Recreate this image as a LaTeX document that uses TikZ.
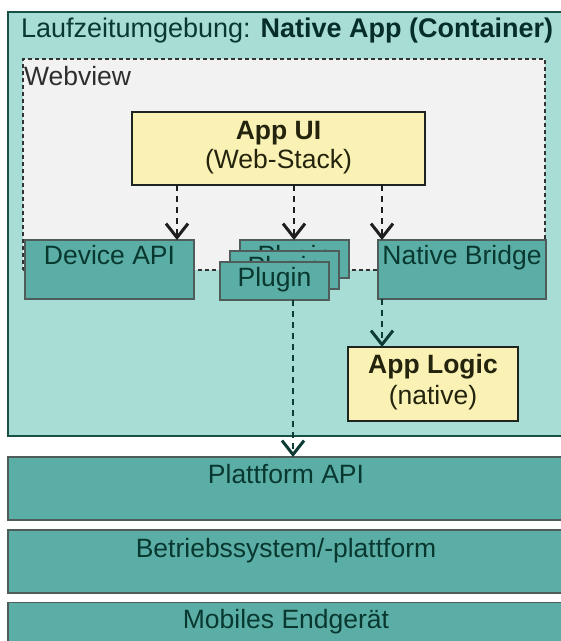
\documentclass[tikz,border=0pt]{standalone}
\usepackage{fontspec}
\setmainfont{Liberation Sans}
\usetikzlibrary{arrows.meta}
\definecolor{contfill}{RGB}{168,221,213}
\definecolor{contline}{RGB}{25,80,70}
\definecolor{boxfill}{RGB}{91,174,165}
\definecolor{boxline}{RGB}{80,92,90}
\definecolor{tealtext}{RGB}{8,56,48}
\definecolor{titlebold}{RGB}{6,46,40}
\definecolor{webfill}{RGB}{242,242,242}
\definecolor{webline}{RGB}{50,50,50}
\definecolor{yellowfill}{RGB}{250,242,180}
\definecolor{yellowline}{RGB}{30,36,32}
\definecolor{darkarrow}{RGB}{30,30,30}
\definecolor{tealarrow}{RGB}{14,60,52}
\definecolor{uitext}{RGB}{36,36,14}
\begin{document}
\begin{tikzpicture}[x=1pt,y=-1pt,
  every node/.style={font=\fontsize{26.5}{30}\selectfont, inner sep=0pt, outer sep=0pt},
  tealbox/.style={draw=boxline, fill=boxfill, line width=1.2pt, rectangle},
  yellowbox/.style={draw=yellowline, fill=yellowfill, line width=2.2pt, rectangle},
  lbl/.style={anchor=base, text=tealtext},
  ylbl/.style={anchor=base, text=uitext},
  uparrow/.style={draw=darkarrow, line width=2.6pt, dash pattern=on 6pt off 5pt,
    -{Straight Barb[length=14pt,width=22pt,line width=3pt]}},
  lowarrow/.style={draw=tealarrow, line width=2.6pt, dash pattern=on 6pt off 5pt,
    -{Straight Barb[length=14pt,width=22pt,line width=3pt]}}
]
\useasboundingbox (0,0) rectangle (561,641);
\clip (0,0) rectangle (561,641);
% container
\node[draw=contline, fill=contfill, line width=1.5pt, minimum width=562pt, minimum height=424pt] (cont) at (289,224) {};
\node[anchor=base west, text=tealtext, font=\fontsize{27}{30}\selectfont] (title) at (21,37) {Laufzeitumgebung: \textcolor{titlebold}{\textbf{Native App (Container)}}};
% webview
\node[draw=webline, fill=webfill, line width=1.3pt, dash pattern=on 4pt off 3pt, minimum width=522pt, minimum height=211pt] (web) at (284,164.5) {};
\node[anchor=base west, text=black!82] (weblbl) at (24,85) {Webview};
% App UI
\node[yellowbox, minimum width=293pt, minimum height=73pt] (ui) at (278.5,148.5) {};
\node[ylbl] (ui1) at (278.5,139) {\textbf{App UI}};
\node[ylbl] (ui2) at (278.5,168) {(Web-Stack)};
% Device API
\node[tealbox, minimum width=169pt, minimum height=59pt] (dev) at (109.5,269.5) {};
\node[lbl] (devlbl) at (109.5,264) {Device API};
% Plugins
\node[tealbox, minimum width=109pt, minimum height=38pt] (plug3) at (294.5,259) {};
\node[lbl] (plug3lbl) at (294.5,264) {Plugin};
\node[tealbox, minimum width=109pt, minimum height=38pt] (plug2) at (284.5,270) {};
\node[lbl] (plug2lbl) at (284.5,275) {Plugin};
\node[tealbox, minimum width=109pt, minimum height=38pt] (plug1) at (274.5,281) {};
\node[lbl] (plug1lbl) at (274.5,286) {Plugin};
% Native Bridge
\node[tealbox, minimum width=168pt, minimum height=59pt] (nb) at (462,269.5) {};
\node[lbl] (nblbl) at (462,264) {Native Bridge};
% App Logic
\node[yellowbox, minimum width=170pt, minimum height=74pt] (logic) at (433,384) {};
\node[ylbl] (logic1) at (433,373) {\textbf{App Logic}};
\node[ylbl] (logic2) at (433,404) {(native)};
% lower layers
\node[tealbox, minimum width=560pt, minimum height=63pt] (papi) at (288,488.5) {};
\node[lbl] (papilbl) at (286,483.5) {Plattform API};
\node[tealbox, minimum width=560pt, minimum height=63pt] (os) at (288,561.5) {};
\node[lbl] (oslbl) at (286,557) {Betriebssystem/-plattform};
\node[tealbox, minimum width=560pt, minimum height=63pt] (dev2) at (288,634) {};
\node[lbl] (dev2lbl) at (286,628.5) {Mobiles Endgerät};
% arrows
\coordinate (a1) at (177,185);
\coordinate (a2) at (294,185);
\coordinate (a3) at (382,185);
\draw[uparrow] (a1) -- (dev.north -| a1);
\draw[uparrow] (a2) -- (plug3.north -| a2);
\draw[uparrow] (a3) -- (nb.north -| a3);
\draw[lowarrow] (plug1.south -| 293,0) -- (papi.north -| 293,0);
\draw[lowarrow] (nb.south -| 382,0) -- (logic.north -| 382,0);
\end{tikzpicture}
\end{document}
